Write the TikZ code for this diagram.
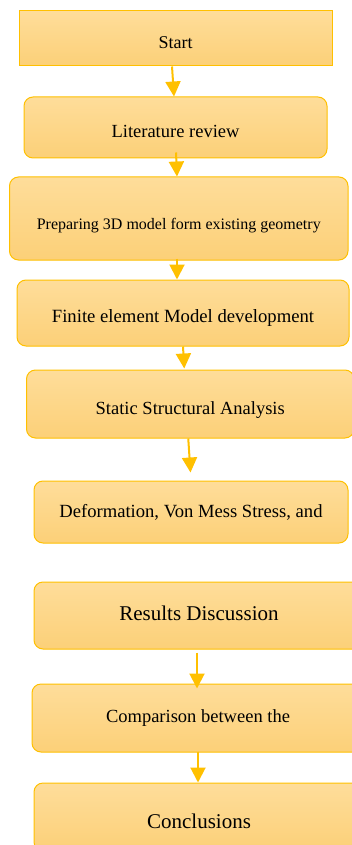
\documentclass[tikz,border=0pt]{standalone}
\usepackage{fontspec}
\setmainfont{Liberation Serif}
\usetikzlibrary{arrows.meta}
\definecolor{gold}{RGB}{255,192,0}
\definecolor{filltop}{RGB}{254,221,154}
\definecolor{fillbot}{RGB}{252,208,120}
\begin{document}
\begin{tikzpicture}[x=1pt,y=-1pt,
  stepbox/.style={draw=gold, line width=1pt, top color=filltop, bottom color=fillbot,
    rounded corners=9pt, inner sep=0pt, text depth=0pt, align=center, text=black},
  flow/.style={draw=gold, line width=2pt, -{Triangle[length=15pt,width=15pt]}},
  fs/.style={font=\fontsize{#1}{#1}\selectfont}]
\useasboundingbox (0,0) rectangle (352,845);
\clip (0,0) rectangle (352,845);

\node[stepbox, sharp corners, fs=18, minimum width=313pt, minimum height=55pt, text height=19.7pt] (n1) at (175.5,38.5) {Start};
\node[stepbox, fs=18.5, minimum width=303pt, minimum height=61pt, text height=21pt] (n2) at (175.5,127.5) {Literature review};
\node[stepbox, fs=16, minimum width=338.5pt, minimum height=83pt, text height=21.7pt] (n3) at (178.75,218.5) {Preparing 3D model form existing geometry};
\node[stepbox, fs=18.7, minimum width=332pt, minimum height=66pt, text height=19.3pt] (n4) at (183,313) {Finite element Model development};
\node[stepbox, fs=18.5, minimum width=327.5pt, minimum height=68pt, text height=20.7pt] (n5) at (190.25,404) {Static Structural Analysis};
\node[stepbox, fs=18.6, minimum width=314pt, minimum height=62pt, text height=10.7pt] (n6) at (191,512) {Deformation, Von Mess Stress, and};
\node[stepbox, fs=21, minimum width=330pt, minimum height=67pt, text height=9pt] (n7) at (199,615.5) {Results Discussion};
\node[stepbox, fs=18.5, minimum width=332pt, minimum height=68pt, text height=8.7pt] (n8) at (198,718) {Comparison between the};
\node[stepbox, fs=21, minimum width=330pt, minimum height=68pt, text height=22.6pt] (n9) at (199,817) {Conclusions};

\draw[flow] ([xshift=-3.5pt]n1.south) -- ([xshift=-1.5pt]n2.north);
\draw[flow] ([xshift=0.5pt,yshift=6pt]n2.south) -- ([xshift=-1.75pt]n3.north);
\draw[flow] ([xshift=-1.75pt,yshift=2pt]n3.south) -- ([xshift=-6pt]n4.north);
\draw[flow] ([xshift=0pt]n4.south) -- ([xshift=-6pt,yshift=1pt]n5.north);
\draw[flow] ([xshift=-2pt]n5.south) -- ([xshift=-0.5pt,yshift=8pt]n6.north);
\draw[flow] ([xshift=-2pt,yshift=-3pt]n7.south) -- ([xshift=-1pt,yshift=-5pt]n8.north);
\draw[flow] ([yshift=1pt]n8.south) -- ([xshift=-1pt]n9.north);
\end{tikzpicture}
\end{document}
